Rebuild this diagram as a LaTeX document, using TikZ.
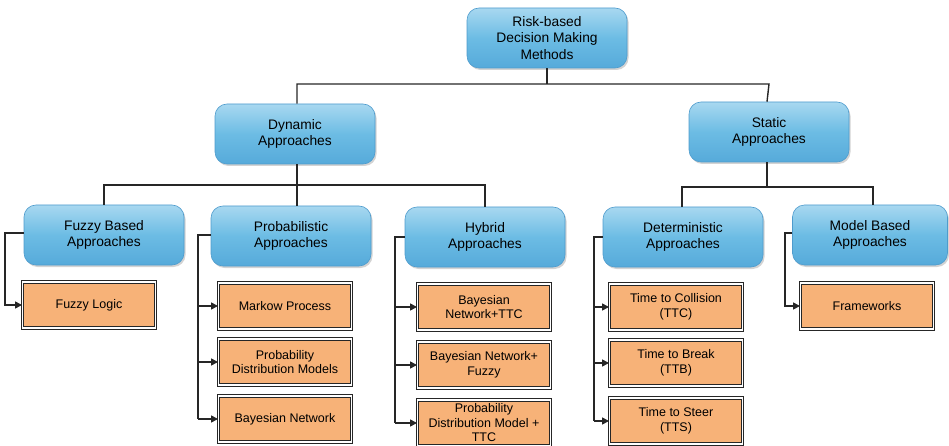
\documentclass[tikz,border=0pt]{standalone}
\usepackage{fontspec}
\setmainfont{Liberation Sans}
\usetikzlibrary{shadows,arrows.meta,positioning}
\definecolor{bluetop}{RGB}{168,216,240}
\definecolor{bluemid}{RGB}{108,188,228}
\definecolor{bluebot}{RGB}{86,170,218}
\definecolor{blueedge}{RGB}{78,155,205}
\definecolor{boxorange}{RGB}{247,178,120}
\tikzset{
  catbox/.style={rectangle, rounded corners=12pt, minimum width=160pt, minimum height=60pt,
    draw=blueedge, line width=0.6pt, top color=bluetop, bottom color=bluebot, middle color=bluemid,
    drop shadow={opacity=0.35, shadow xshift=1.5pt, shadow yshift=-2pt},
    align=center, font=\fontsize{13.8}{16.5}\selectfont, text=black, inner sep=2pt},
  leafbox/.style={rectangle, minimum width=133pt, minimum height=46pt, fill=boxorange,
    draw=black!85, line width=0.9pt, double=white, double distance=1.6pt,
    align=center, font=\fontsize{12.5}{14.5}\selectfont, text=black, inner sep=2pt},
  tree/.style={draw=black!85, line width=1.4pt},
  feed/.style={draw=black!85, line width=1.4pt, -{Triangle[length=7pt,width=7pt]}}
}
\begin{document}
\begin{tikzpicture}[x=1pt,y=-1pt]
\useasboundingbox (0,0) rectangle (949,446);

% category boxes
\node[catbox] (root) at (547,38) {Risk-based\\Decision Making\\Methods};
\node[catbox] (dyn) at (295,134) {Dynamic\\Approaches};
\node[catbox] (sta) at (769,132) {Static\\Approaches};
\node[catbox] (fuz) at (104,235) {Fuzzy Based\\Approaches};
\node[catbox] (pro) at (291,236) {Probabilistic\\Approaches};
\node[catbox] (hyb) at (485,237) {Hybrid\\Approaches};
\node[catbox] (det) at (683,237) {Deterministic\\Approaches};
\node[catbox, minimum width=155pt] (mod) at (870,235) {Model Based\\Approaches};

% method boxes
\node[leafbox] (fl) at (89,305) {Fuzzy Logic};
\node[leafbox] (mp) at (285,306) {Markow Process};
\node[leafbox] (pdm) at (285,362) {Probability\\Distribution Models};
\node[leafbox] (bn) at (285,419) {Bayesian Network};
\node[leafbox] (bnt) at (484,307) {Bayesian\\Network+TTC};
\node[leafbox] (bnf) at (484,365) {Bayesian Network+\\Fuzzy};
\node[leafbox] (pdt) at (484,423) {Probability\\Distribution Model +\\TTC};
\node[leafbox] (ttc) at (676,307) {Time to Collision\\(TTC)};
\node[leafbox] (ttb) at (676,363) {Time to Break\\(TTB)};
\node[leafbox] (tts) at (676,421) {Time to Steer\\(TTS)};
\node[leafbox] (fw) at (867,306) {Frameworks};

% hierarchy lines
\coordinate (r1) at (547,84);
\coordinate (d1) at (297,185);
\coordinate (s1) at (767,187);
\draw[tree] (root.south) -- (r1);
\draw[tree] (dyn.north -| d1) |- (r1 -| sta.north) -- ([xshift=-2pt]sta.north);
\draw[tree] (dyn.south -| d1) -- (d1);
\draw[tree] (fuz.north) |- (d1) -| (hyb.north);
\draw[tree] (d1) -- (pro.north -| d1);
\draw[tree] ([xshift=-2pt]sta.south) -- (s1);
\draw[tree] (det.north -| 682,0) |- (s1) -| (873,0 |- mod.north);

% feeds into methods
\coordinate (fx) at (5,0);
\coordinate (px) at (198,0);
\coordinate (hx) at (395,0);
\coordinate (dx) at (594,0);
\coordinate (mx) at (785,0);
\draw[feed] ([yshift=2pt]fuz.west) -| (fx |- fl) -- (fl.west);
\draw[tree] ([yshift=1pt]pro.west) -| (px |- bn);
\draw[feed] (px |- mp) -- (mp.west);
\draw[feed] (px |- pdm) -- (pdm.west);
\draw[feed] (px |- bn) -- (bn.west);
\draw[tree] (hyb.west) -| (hx |- pdt);
\draw[feed] (hx |- bnt) -- (bnt.west);
\draw[feed] (hx |- bnf) -- (bnf.west);
\draw[feed] (hx |- pdt) -- (pdt.west);
\draw[tree] (det.west) -| (dx |- tts);
\draw[feed] (dx |- ttc) -- (ttc.west);
\draw[feed] (dx |- ttb) -- (ttb.west);
\draw[feed] (dx |- tts) -- (tts.west);
\draw[feed] ([yshift=2pt]mod.west) -| (mx |- fw) -- (fw.west);
\end{tikzpicture}
\end{document}
